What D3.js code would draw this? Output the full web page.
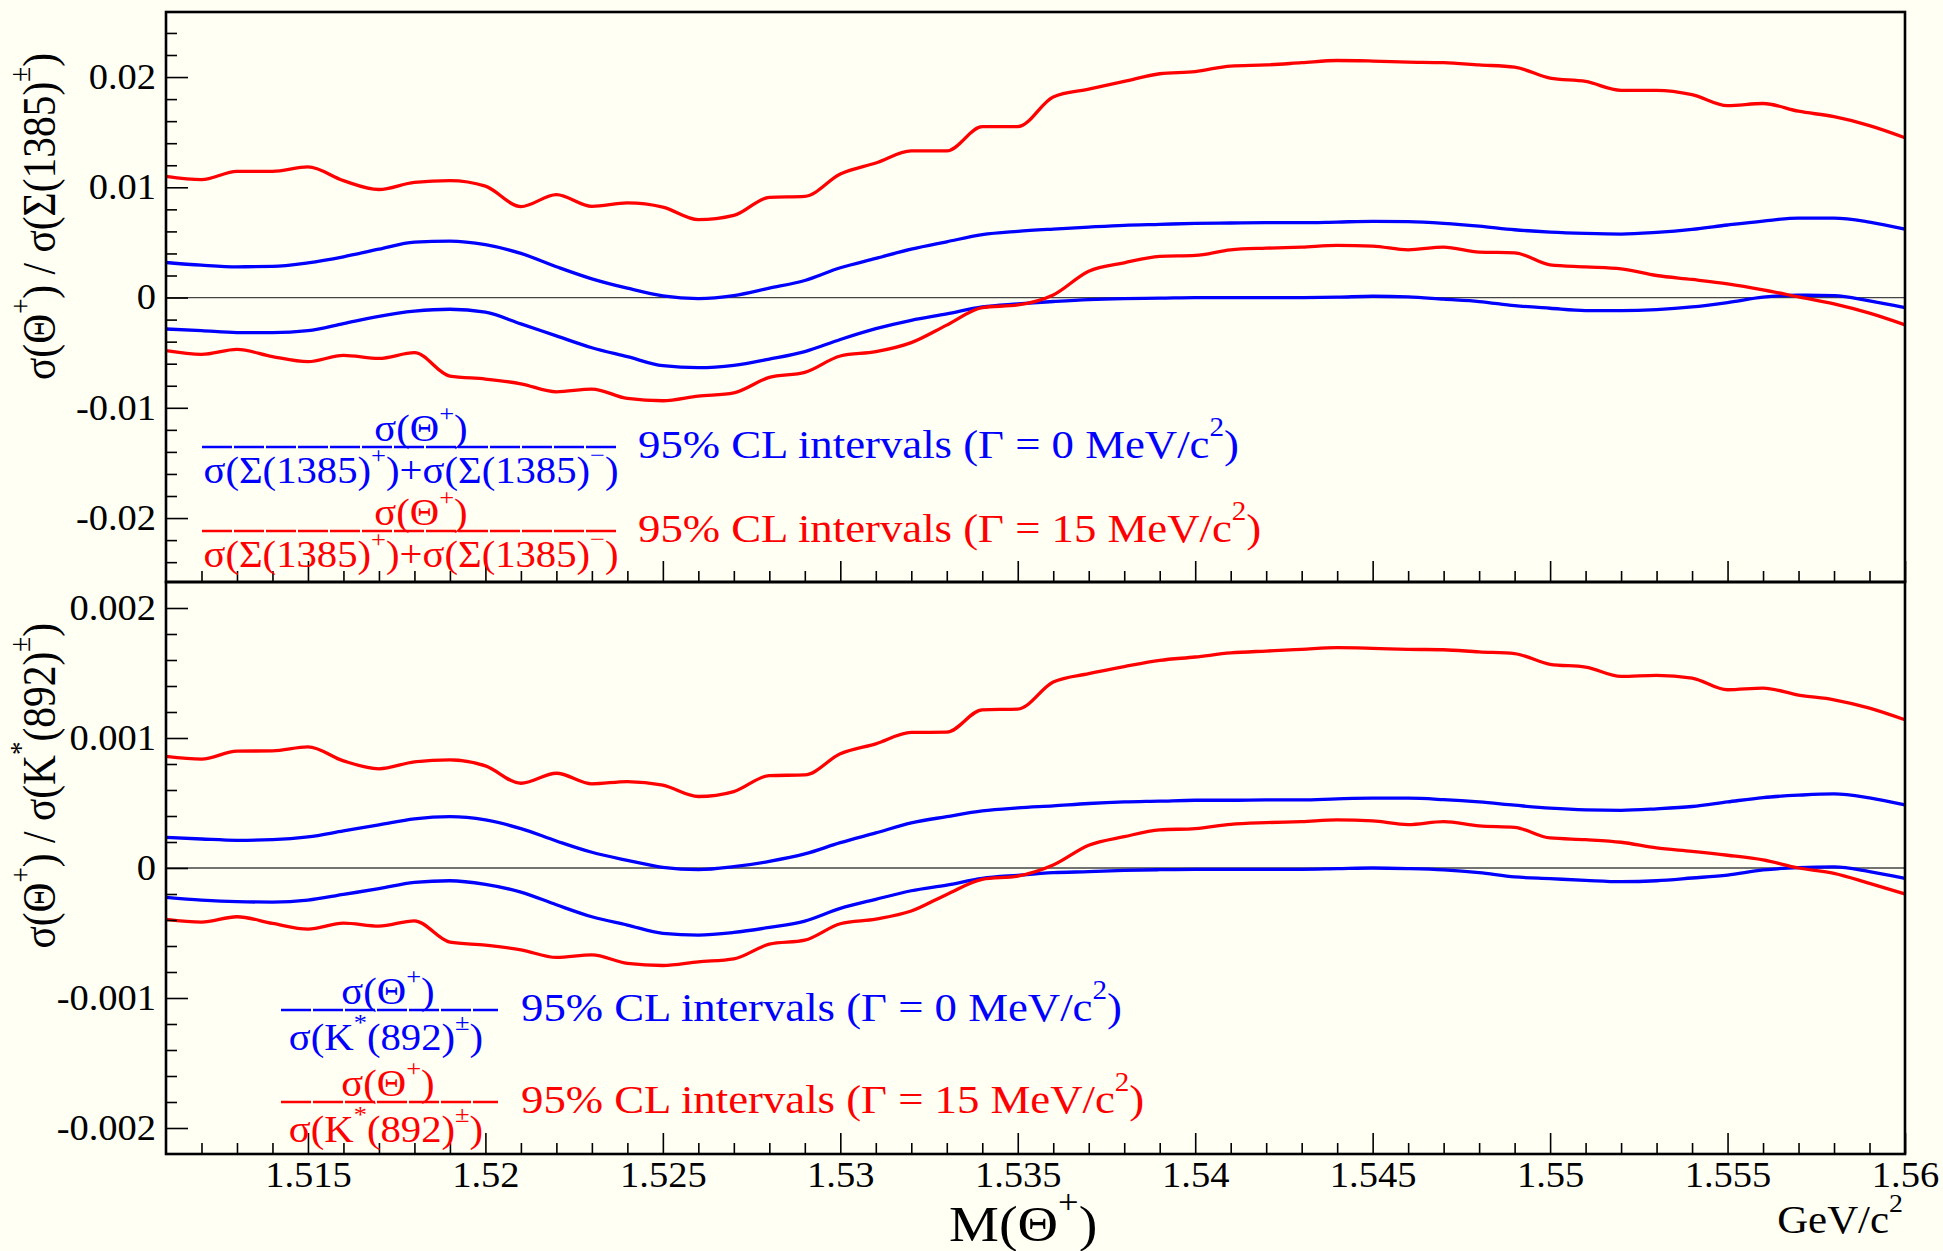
<!DOCTYPE html>
<html>
<head>
<meta charset="utf-8">
<script src="https://cdn.jsdelivr.net/npm/d3@7/dist/d3.min.js"></script>
<style>
  body { margin: 0; background: #fffff4; }
  svg { display: block; }
</style>
</head>
<body>
<div id="container"></div>
<script>
// M(Theta+) in GeV/c^2
const mass = [1.511, 1.512, 1.513, 1.514, 1.515, 1.516, 1.517, 1.518, 1.519, 1.520,
              1.521, 1.522, 1.523, 1.524, 1.525, 1.526, 1.527, 1.528, 1.529, 1.530,
              1.531, 1.532, 1.533, 1.534, 1.535, 1.536, 1.537, 1.538, 1.539, 1.540,
              1.541, 1.542, 1.543, 1.544, 1.545, 1.546, 1.547, 1.548, 1.549, 1.550,
              1.551, 1.552, 1.553, 1.554, 1.555, 1.556, 1.557, 1.558, 1.559, 1.560];

// upper panel: sigma(Theta+) / sigma(Sigma(1385)), units of 1e-3
const sigmaWideHi = [11.0, 10.7, 11.45, 11.45, 11.85, 10.6, 9.8, 10.45, 10.6, 10.1,
                     8.25, 9.33, 8.27, 8.58, 8.2, 7.06, 7.45, 9.09, 9.18, 11.2,
                     12.2, 13.3, 13.3, 15.5, 15.5, 18.2, 18.9, 19.6, 20.3, 20.5,
                     21.0, 21.1, 21.3, 21.5, 21.45, 21.36, 21.3, 21.1, 20.9, 19.9,
                     19.6, 18.8, 18.8, 18.4, 17.4, 17.6, 16.9, 16.4, 15.6, 14.5];
const sigmaNarrowHi = [3.18, 2.94, 2.79, 2.82, 3.15, 3.70, 4.39, 5.03, 5.12, 4.79,
                       4.0, 2.8, 1.70, 0.85, 0.15, -0.09, 0.18, 0.85, 1.55, 2.70,
                       3.55, 4.39, 5.06, 5.70, 6.0, 6.21, 6.39, 6.55, 6.64, 6.73,
                       6.76, 6.79, 6.79, 6.85, 6.91, 6.88, 6.73, 6.48, 6.15, 5.94,
                       5.82, 5.76, 5.91, 6.18, 6.58, 6.94, 7.21, 7.21, 6.85, 6.21];
const sigmaNarrowLo = [-2.85, -3.0, -3.18, -3.18, -3.0, -2.36, -1.70, -1.24, -1.06, -1.33,
                       -2.39, -3.48, -4.55, -5.36, -6.18, -6.36, -6.15, -5.58, -4.9, -3.8,
                       -2.82, -2.06, -1.48, -0.85, -0.58, -0.36, -0.18, -0.09, -0.06, 0,
                       0, 0, 0, 0.03, 0.12, 0.06, -0.15, -0.36, -0.73, -0.97,
                       -1.18, -1.18, -1.09, -0.85, -0.45, 0.03, 0.21, 0.18, -0.30, -0.91];
const sigmaWideLo = [-4.82, -5.15, -4.70, -5.36, -5.82, -5.24, -5.52, -5.0, -7.12, -7.39,
                     -7.82, -8.55, -8.30, -9.15, -9.36, -8.94, -8.64, -7.24, -6.79, -5.30,
                     -4.91, -4.09, -2.5, -0.91, -0.67, 0.24, 2.39, 3.15, 3.73, 3.82,
                     4.33, 4.48, 4.58, 4.73, 4.67, 4.33, 4.58, 4.12, 4.06, 2.97,
                     2.79, 2.61, 2.0, 1.64, 1.24, 0.70, 0.06, -0.58, -1.42, -2.48];

// lower panel: sigma(Theta+) / sigma(K*(892)), units of 1e-4
const kstarWideHi = [8.58, 8.37, 8.99, 9.01, 9.32, 8.24, 7.63, 8.17, 8.32, 7.86,
                     6.52, 7.29, 6.47, 6.65, 6.37, 5.50, 5.88, 7.11, 7.16, 8.78,
                     9.55, 10.43, 10.45, 12.17, 12.22, 14.30, 14.95, 15.49, 15.97, 16.23,
                     16.54, 16.69, 16.82, 16.95, 16.90, 16.82, 16.79, 16.62, 16.49, 15.67,
                     15.46, 14.74, 14.82, 14.61, 13.71, 13.84, 13.30, 12.94, 12.30, 11.40];
const kstarNarrowHi = [2.36, 2.23, 2.13, 2.18, 2.39, 2.85, 3.31, 3.78, 3.95, 3.70,
                       3.03, 2.08, 1.21, 0.59, 0.05, -0.13, 0.10, 0.51, 1.08, 1.95,
                       2.70, 3.47, 3.95, 4.39, 4.62, 4.78, 4.96, 5.08, 5.14, 5.21,
                       5.21, 5.24, 5.24, 5.32, 5.37, 5.37, 5.26, 5.08, 4.83, 4.60,
                       4.47, 4.44, 4.55, 4.73, 5.08, 5.42, 5.60, 5.70, 5.39, 4.85];
const kstarNarrowLo = [-2.26, -2.47, -2.59, -2.62, -2.47, -2.03, -1.59, -1.10, -0.98, -1.26,
                       -1.85, -2.83, -3.75, -4.39, -5.03, -5.16, -4.96, -4.57, -4.08, -3.11,
                       -2.41, -1.75, -1.31, -0.80, -0.56, -0.36, -0.28, -0.18, -0.13, -0.10,
                       -0.10, -0.10, -0.10, -0.05, 0, -0.05, -0.15, -0.36, -0.69, -0.82,
                       -0.95, -1.05, -0.98, -0.77, -0.54, -0.15, 0.03, 0.08, -0.28, -0.80];
const kstarWideLo = [-3.95, -4.16, -3.75, -4.26, -4.70, -4.24, -4.47, -4.06, -5.70, -5.93,
                     -6.29, -6.88, -6.68, -7.34, -7.50, -7.22, -6.99, -5.86, -5.55, -4.29,
                     -3.93, -3.31, -2.03, -0.87, -0.62, 0.23, 1.75, 2.41, 2.93, 3.03,
                     3.36, 3.49, 3.57, 3.70, 3.62, 3.34, 3.57, 3.24, 3.13, 2.31,
                     2.18, 1.98, 1.54, 1.28, 0.98, 0.62, 0, -0.41, -1.18, -2.00];

// axis ticks
const xTicks = [1.515, 1.52, 1.525, 1.53, 1.535, 1.54, 1.545, 1.55, 1.555, 1.56];
const xTickLabels = ["1.515", "1.52", "1.525", "1.53", "1.535", "1.54", "1.545", "1.55", "1.555", "1.56"];
const yTicks = [20, 10, 0, -10, -20];
const sigmaTickLabels = ["0.02", "0.01", "0", "-0.01", "-0.02"];
const kstarTickLabels = ["0.002", "0.001", "0", "-0.001", "-0.002"];

// layout
const WIDTH = 1943;
const HEIGHT = 1251;
const LEFT = 166;
const RIGHT = 1905;
const STRETCH = 1.1;       // the original text is slightly wider than Times
const SERIF = '"Liberation Serif", "Times New Roman", Times, serif';
const RED = "#ff0000";
const BLUE = "#0000ff";

const svg = d3.select("#container")
    .append("svg")
    .attr("width", WIDTH)
    .attr("height", HEIGHT)
    .attr("font-family", SERIF);

svg.append("rect")
    .attr("width", WIDTH)
    .attr("height", HEIGHT)
    .attr("fill", "#fffff4");

const x = d3.scaleLinear()
    .domain([1.511, 1.56])
    .range([LEFT, RIGHT]);

// text with superscripts, e.g. ["σ(Θ", {t: "+", sup: true}, ")"]
const richText = (parent, px, py, parts, opts) => {
    const g = parent.append("g")
        .attr("transform", `translate(${px},${py}) scale(${STRETCH},1)` + (opts.rotate ? ` rotate(${opts.rotate})` : ""));
    const t = g.append("text")
        .attr("text-anchor", opts.anchor || "start")
        .attr("fill", opts.color || "#000")
        .attr("font-size", opts.size);
    let shift = 0;
    parts.forEach((p) => {
        const s = typeof p === "string" ? { t: p } : p;
        const target = s.sup ? -0.55 * opts.size : 0;
        t.append("tspan")
            .attr("dy", target - shift)
            .attr("font-size", s.sup ? opts.size * 0.65 : opts.size)
            .text(s.t);
        shift = target;
    });
    return g;
};

const drawPanel = (cfg) => {
    const y = d3.scaleLinear()
        .domain(cfg.domain)
        .range([cfg.bottom, cfg.top]);
    const g = svg.append("g");

    // zero line
    g.append("line")
        .attr("x1", LEFT)
        .attr("x2", RIGHT)
        .attr("y1", y(0))
        .attr("y2", y(0))
        .attr("stroke", "#444")
        .attr("stroke-width", 1.3);

    // limit curves
    const line = d3.line()
        .x((d, i) => x(mass[i]))
        .y((d) => y(d))
        .curve(d3.curveMonotoneX);

    cfg.series.forEach((s) => {
        g.append("path")
            .datum(s.values)
            .attr("d", line)
            .attr("fill", "none")
            .attr("stroke", s.color)
            .attr("stroke-width", 3.3)
            .attr("stroke-linejoin", "round");
    });

    // y axis, major ticks with labels
    const yAxis = d3.axisLeft(y)
        .tickValues(yTicks)
        .tickFormat((d) => cfg.labels[yTicks.indexOf(d)])
        .tickSizeInner(-22)
        .tickSizeOuter(0)
        .tickPadding(9);
    const ya = g.append("g")
        .attr("transform", `translate(${LEFT},0)`)
        .call(yAxis);
    ya.select(".domain").remove();
    ya.attr("font-family", SERIF).attr("font-size", 35).attr("color", "#000");
    ya.selectAll("line").attr("stroke-width", 1.6);
    ya.selectAll("text").attr("transform", `scale(${STRETCH},1)`);

    // y minor ticks, only inside the frame
    const [lo, hi] = cfg.domain;
    const ym = g.append("g")
        .attr("transform", `translate(${LEFT},0)`)
        .call(d3.axisLeft(y)
            .tickValues(d3.range(-24, 25, 2).filter((v) => v % 10 !== 0 && v > lo && v < hi))
            .tickSizeInner(-11)
            .tickSizeOuter(0)
            .tickFormat(""));
    ym.select(".domain").remove();
    ym.attr("color", "#000");
    ym.selectAll("line").attr("stroke-width", 1.6);

    // x axis along the bottom of the panel
    const xAxis = d3.axisBottom(x)
        .tickValues(xTicks)
        .tickFormat(cfg.showX ? (d) => xTickLabels[xTicks.indexOf(d)] : "")
        .tickSizeInner(-21)
        .tickSizeOuter(0)
        .tickPadding(8);
    const xa = g.append("g")
        .attr("transform", `translate(0,${cfg.bottom})`)
        .call(xAxis);
    xa.select(".domain").remove();
    xa.attr("font-family", SERIF).attr("font-size", 35).attr("color", "#000");
    xa.selectAll("line").attr("stroke-width", 1.6);
    xa.selectAll("text").attr("transform", `scale(${STRETCH},1)`);

    const xm = g.append("g")
        .attr("transform", `translate(0,${cfg.bottom})`)
        .call(d3.axisBottom(x)
            .tickValues(d3.range(1512, 1560).filter((v) => v % 5 !== 0).map((v) => v / 1000))
            .tickSizeInner(-11)
            .tickSizeOuter(0)
            .tickFormat(""));
    xm.select(".domain").remove();
    xm.attr("color", "#000");
    xm.selectAll("line").attr("stroke-width", 1.6);

    // frame
    g.append("rect")
        .attr("x", LEFT)
        .attr("y", cfg.top)
        .attr("width", RIGHT - LEFT)
        .attr("height", cfg.bottom - cfg.top)
        .attr("fill", "none")
        .attr("stroke", "#000")
        .attr("stroke-width", 2.6);

    // y title
    richText(svg, 55, cfg.titleEnd, cfg.title, { size: 41.5, anchor: "end", rotate: -90 });

    // legend: fraction + text
    cfg.legend.forEach((l) => {
        svg.append("line")
            .attr("x1", l.barX0)
            .attr("x2", l.barX1)
            .attr("y1", l.barY)
            .attr("y2", l.barY)
            .attr("stroke", l.color)
            .attr("stroke-width", 2.6)
            .attr("stroke-dasharray", "30,2");
        richText(svg, l.numX, l.barY - 6, l.num, { size: 37, anchor: "middle", color: l.color });
        richText(svg, l.denX, l.barY + l.denDy, l.den, { size: 37, anchor: "middle", color: l.color });
        richText(svg, l.textX, l.barY + 11, l.text, { size: 40.7, color: l.color });
    });
};

const numerator = ["σ(Θ", { t: "+", sup: true }, ")"];
const sigmaDen = ["σ(Σ(1385)", { t: "+", sup: true }, ")+σ(Σ(1385)", { t: "−", sup: true }, ")"];
const kstarDen = ["σ(K", { t: "*", sup: true }, "(892)", { t: "±", sup: true }, ")"];
const textNarrow = ["95% CL intervals (Γ = 0 MeV/c", { t: "2", sup: true }, ")"];
const textWide = ["95% CL intervals (Γ = 15 MeV/c", { t: "2", sup: true }, ")"];

drawPanel({
    top: 12,
    bottom: 582,
    domain: [-25.8, 25.9],
    labels: sigmaTickLabels,
    showX: false,
    titleEnd: 53,
    title: ["σ(Θ", { t: "+", sup: true }, ") / σ(Σ(1385)", { t: "±", sup: true }, ")"],
    series: [
        { values: sigmaWideHi, color: RED },
        { values: sigmaNarrowHi, color: BLUE },
        { values: sigmaNarrowLo, color: BLUE },
        { values: sigmaWideLo, color: RED }
    ],
    legend: [
        { color: BLUE, numX: 421, denX: 411, barX0: 202, barX1: 616, barY: 447, denDy: 36, textX: 638, num: numerator, den: sigmaDen, text: textNarrow },
        { color: RED, numX: 421, denX: 411, barX0: 202, barX1: 616, barY: 531, denDy: 36, textX: 638, num: numerator, den: sigmaDen, text: textWide }
    ]
});

drawPanel({
    top: 582,
    bottom: 1154,
    domain: [-22, 22],
    labels: kstarTickLabels,
    showX: true,
    titleEnd: 623,
    title: ["σ(Θ", { t: "+", sup: true }, ") / σ(K", { t: "*", sup: true }, "(892)", { t: "±", sup: true }, ")"],
    series: [
        { values: kstarWideHi, color: RED },
        { values: kstarNarrowHi, color: BLUE },
        { values: kstarNarrowLo, color: BLUE },
        { values: kstarWideLo, color: RED }
    ],
    legend: [
        { color: BLUE, numX: 388, denX: 386, barX0: 281, barX1: 498, barY: 1010, denDy: 40, textX: 521, num: numerator, den: kstarDen, text: textNarrow },
        { color: RED, numX: 388, denX: 386, barX0: 281, barX1: 498, barY: 1102, denDy: 40, textX: 521, num: numerator, den: kstarDen, text: textWide }
    ]
});

// x titles
richText(svg, 949, 1241, ["M(Θ", { t: "+", sup: true }, ")"], { size: 51 });
richText(svg, 1903, 1233, ["GeV/c", { t: "2", sup: true }], { size: 39, anchor: "end" });
</script>
</body>
</html>
